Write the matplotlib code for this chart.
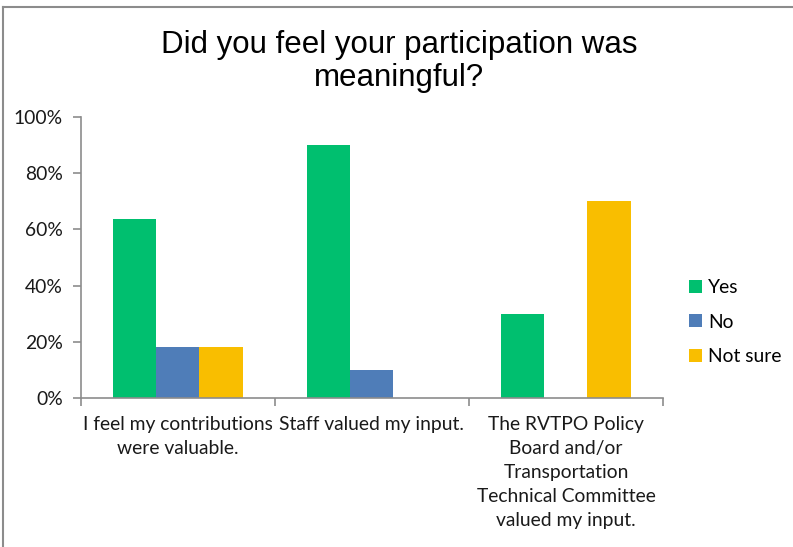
import numpy as np
import matplotlib
matplotlib.use("Agg")
import matplotlib.pyplot as plt
from matplotlib.lines import Line2D
from matplotlib.ticker import PercentFormatter

categories = ["I feel my contributions\nwere valuable.",
              "Staff valued my input.",
              "The RVTPO Policy\nBoard and/or\nTransportation\nTechnical Committee\nvalued my input."]
series = ["Yes", "No", "Not sure"]
yes = [63.6, 90.0, 30.0]
no = [18.2, 10.0, 0.0]
not_sure = [18.2, 0.0, 70.0]
colors = ["#00BF6F", "#4F7DB8", "#F9BE00"]

plt.rcParams["font.family"] = ["Lato", "DejaVu Sans"]
fs = 13.9

fig = plt.figure(figsize=(7.93, 5.47), dpi=100)
ax = fig.add_axes([0.102, 0.2724, 0.734, 0.5137])

x = np.arange(len(categories))
w = 0.222
for i, (vals, name) in enumerate(zip([yes, no, not_sure], series)):
    ax.bar(x + (i - 1) * w, vals, w, color=colors[i], label=name)

ax.set_xlim(-0.5, 2.5)
ax.set_ylim(0, 100)
ax.set_yticks(range(0, 101, 20))
ax.yaxis.set_major_formatter(PercentFormatter(decimals=0))
ax.set_xticks(x)
ax.set_xticklabels(categories, fontsize=fs, linespacing=1.5, color="#1a1a1a")
ax.tick_params(axis="x", length=0, pad=13)
ax.set_xticks([-0.5, 0.5, 1.5, 2.5], minor=True)
ax.tick_params(axis="x", which="minor", length=6, color="#8c8c8c", width=1.2)
ax.tick_params(axis="y", length=6, color="#8c8c8c", width=1.2, labelsize=fs, labelcolor="#1a1a1a", pad=7)

for s in ["top", "right"]:
    ax.spines[s].set_visible(False)
for s in ["left", "bottom"]:
    ax.spines[s].set_color("#8c8c8c")
    ax.spines[s].set_linewidth(1.2)

fig.text(0.503, 0.888, "Did you feel your participation was\nmeaningful?", ha="center", va="center",
         fontsize=22.5, family="Liberation Sans", linespacing=1.15)

ax.legend(loc="center left", bbox_to_anchor=(1.015, 0.27), frameon=False, fontsize=fs,
          handlelength=0.65, handleheight=0.65, handletextpad=0.35, labelspacing=0.92)

# outer chart border (top and left visible)
fig.add_artist(Line2D([0.004, 1.0], [1 - 7 / 547, 1 - 7 / 547], color="#8c8c8c", lw=1.5))
fig.add_artist(Line2D([0.004, 0.004], [0, 1 - 7 / 547], color="#8c8c8c", lw=1.5))

fig.savefig("out.png", dpi=100)
